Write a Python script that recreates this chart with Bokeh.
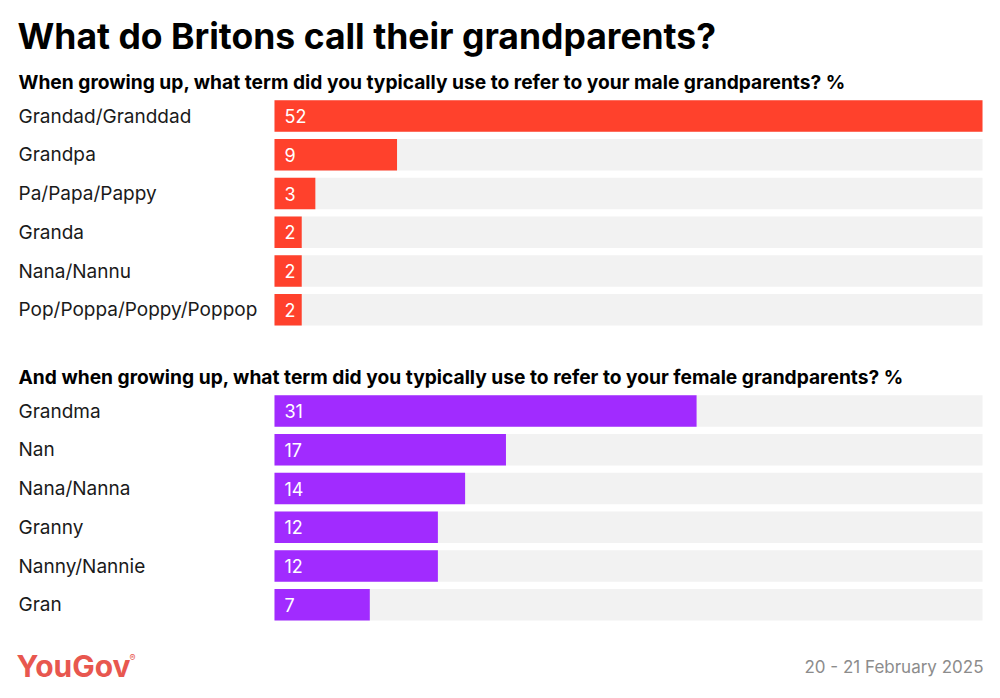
from bokeh.plotting import figure
from bokeh.models import Range1d, ColumnDataSource
from bokeh.core.properties import value
from bokeh.embed import file_html
from bokeh.resources import INLINE

title = "What do Britons call their grandparents?"
q_male = "When growing up, what term did you typically use to refer to your male grandparents? %"
q_female = "And when growing up, what term did you typically use to refer to your female grandparents? %"
male_terms = ["Grandad/Granddad", "Grandpa", "Pa/Papa/Pappy", "Granda", "Nana/Nannu", "Pop/Poppa/Poppy/Poppop"]
male_values = [52, 9, 3, 2, 2, 2]
female_terms = ["Grandma", "Nan", "Nana/Nanna", "Granny", "Nanny/Nannie", "Gran"]
female_values = [31, 17, 14, 12, 12, 7]
source_note = "20 - 21 February 2025"
brand = "YouGov"

MALE_COL = "#ff412c"
FEMALE_COL = "#a12bff"
TRACK = "#f2f2f2"
FONT = "Inter"

W, H = 984, 690
X0_PX, X1_PX = 274, 982  # canvas px where 0 and max value sit
vmax = max(male_values)
k = vmax / (X1_PX - X0_PX)
def xd(px):
    return (px - X0_PX) * k

p = figure(width=W, height=H, output_backend="svg", toolbar_location=None,
           x_range=Range1d(xd(0), xd(W)), y_range=Range1d(H, 0),
           min_border=0, outline_line_color=None)
p.axis.visible = False
p.grid.visible = False
p.background_fill_color = "white"
p.border_fill_color = "white"

pitch = 38.75
bar_h = 31.5
male_y = [115.5 + i * pitch for i in range(len(male_terms))]
female_y = [410.5 + i * pitch for i in range(len(female_terms))]

def group(terms, vals, ys, col):
    src = ColumnDataSource(dict(y=ys, v=vals, t=terms, lab=[str(v) for v in vals],
                                full=[vmax] * len(vals)))
    p.hbar(y="y", left=0, right="full", height=bar_h, source=src, fill_color=TRACK, line_color=None)
    p.hbar(y="y", left=0, right="v", height=bar_h, source=src, fill_color=col, line_color=None)
    p.text(x=xd(18), y="y", text="t", source=src, text_font=value(FONT), text_font_size="19px",
           text_color="#1a1a1a", text_baseline="middle", text_align="left")
    p.text(x=0, y="y", text="lab", source=src, x_offset=10, text_font=value(FONT), text_font_size="18px",
           text_color="white", text_baseline="middle", text_align="left")

group(male_terms, male_values, male_y, MALE_COL)
group(female_terms, female_values, female_y, FEMALE_COL)

def label(x_px, y_px, txt, size, color, bold=False, align="left"):
    p.text(x=[xd(x_px)], y=[y_px], text=[txt], text_font=value(FONT), text_font_size=size,
           text_font_style="bold" if bold else "normal", text_color=color,
           text_baseline="middle", text_align=align)

label(17, 35.5, title, "35.5px", "black", bold=True)
label(18, 81.7, q_male, "19.2px", "black", bold=True)
label(18, 376, q_female, "19.2px", "black", bold=True)
label(16, 665.5, brand, "30px", "#e8574f", bold=True)
label(129, 657, "®", "9px", "#e8574f")
label(983, 666, source_note, "17px", "#8c8c8c", align="right")

open("out.html", "w").write(file_html(p, INLINE))
